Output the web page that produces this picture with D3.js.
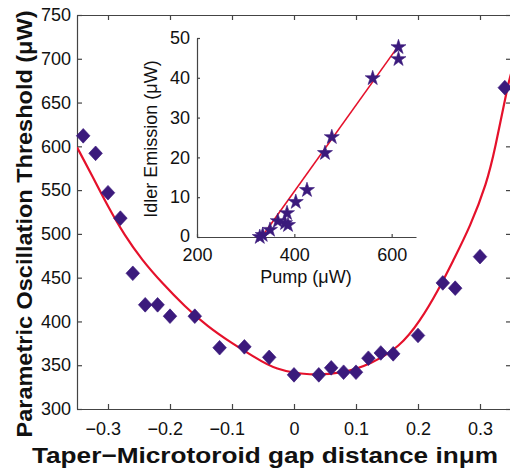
<!DOCTYPE html>
<html>
<head>
<meta charset="utf-8">
<script src="https://cdn.jsdelivr.net/npm/d3@7"></script>
<style>
  html, body { margin: 0; padding: 0; background: #fff; }
  svg { display: block; font-family: 'Liberation Sans', Arial, sans-serif; }
</style>
</head>
<body>
<div id="chart"></div>
<script>
// main plot: measured threshold vs gap
const gapDistance = [-0.34, -0.32, -0.30, -0.28, -0.26, -0.24, -0.22, -0.20, -0.16, -0.12, -0.08, -0.04,
    0, 0.04, 0.06, 0.08, 0.10, 0.12, 0.14, 0.16, 0.20, 0.24, 0.26, 0.30, 0.34];
const threshold = [612, 592, 547, 518, 455, 419, 419, 406, 406, 370, 371, 359,
    339, 339, 347, 342, 342, 358, 364, 363, 384, 444, 438, 474, 667];

// red fit curve
const fitGap = [-0.35, -0.326, -0.30, -0.273, -0.245, -0.213, -0.176, -0.139, -0.10, -0.063, -0.031,
    0.026, 0.079, 0.123, 0.171, 0.203, 0.233, 0.257, 0.284, 0.311, 0.324, 0.344, 0.35];
const fitThreshold = [599, 567, 531, 498, 470, 444, 417, 394, 375, 359, 345,
    338, 341, 351, 371, 400, 436, 470, 508, 558, 596, 667, 683];

const xTicks = [-0.3, -0.2, -0.1, 0, 0.1, 0.2, 0.3];
const yTicks = [300, 350, 400, 450, 500, 550, 600, 650, 700, 750];

// inset: idler emission vs pump
const pump = [614, 614, 561, 477, 463, 426, 403, 385, 366, 381, 387, 350, 335, 329];
const idler = [47.7, 44.7, 39.9, 25.1, 21.1, 11.8, 8.8, 6.0, 4.0, 3.5, 3.0, 1.8, 0.5, 0];
const insetFitPump = [333, 612];
const insetFitIdler = [0, 47.7];
const insetXTicks = [200, 400, 600];
const insetYTicks = [0, 10, 20, 30, 40, 50];

const W = 510, H = 468;
const axisColor = '#444';
const textColor = '#111';
const markColor = '#3b1a7c';
const fitColor = '#e5112b';
const minus = v => (v < 0 ? '\u2212' : '') + Math.abs(v);

const svg = d3.select('#chart').append('svg')
    .attr('width', W)
    .attr('height', H);

svg.append('rect').attr('width', W).attr('height', H).attr('fill', '#fff');

// main plot area
const plot = { left: 77, right: 511, top: 15, bottom: 409 };

const x = d3.scaleLinear().domain([-0.35, 0.35]).range([plot.left, plot.right]);
const y = d3.scaleLinear().domain([300, 750]).range([plot.bottom, plot.top]);

svg.append('clipPath').attr('id', 'clip')
    .append('rect')
    .attr('x', plot.left).attr('y', plot.top)
    .attr('width', plot.right - plot.left).attr('height', plot.bottom - plot.top);

function styleAxis(g, fontSize) {
    g.select('.domain').attr('stroke', axisColor).attr('stroke-width', 1.2);
    g.selectAll('.tick line').attr('stroke', axisColor).attr('stroke-width', 1.2);
    g.selectAll('.tick text').attr('fill', textColor).style('font-size', fontSize + 'px');
    g.attr('font-family', null);
}

const bottomAxis = svg.append('g')
    .attr('transform', `translate(0,${plot.bottom})`)
    .call(d3.axisBottom(x).tickValues(xTicks).tickFormat(minus)
        .tickSizeInner(-5).tickSizeOuter(0).tickPadding(13));
styleAxis(bottomAxis, 18);
bottomAxis.selectAll('.tick text').attr('dx', d => d < 0 ? '-0.29em' : 0);

const topAxis = svg.append('g')
    .attr('transform', `translate(0,${plot.top})`)
    .call(d3.axisTop(x).tickValues(xTicks).tickFormat('')
        .tickSizeInner(-5).tickSizeOuter(0));
styleAxis(topAxis, 18);

const leftAxis = svg.append('g')
    .attr('transform', `translate(${plot.left},0)`)
    .call(d3.axisLeft(y).tickValues(yTicks)
        .tickSizeInner(-5).tickSizeOuter(0).tickPadding(6));
styleAxis(leftAxis, 18);

const rightAxis = svg.append('g')
    .attr('transform', `translate(${plot.right},0)`)
    .call(d3.axisRight(y).tickValues(yTicks).tickFormat('')
        .tickSizeInner(-5).tickSizeOuter(0));
styleAxis(rightAxis, 18);

const plotArea = svg.append('g').attr('clip-path', 'url(#clip)');

const fitLine = d3.line()
    .x((d, i) => x(fitGap[i]))
    .y((d, i) => y(fitThreshold[i]))
    .curve(d3.curveBasis);

plotArea.append('path')
    .datum(fitGap)
    .attr('d', fitLine)
    .attr('fill', 'none')
    .attr('stroke', fitColor)
    .attr('stroke-width', 2.2);

const diamond = d3.symbol().type(d3.symbolSquare).size(92);

svg.append('g')
    .selectAll('path')
    .data(gapDistance)
    .join('path')
    .attr('d', diamond)
    .attr('transform', (d, i) => `translate(${x(d)},${y(threshold[i])}) scale(1,1.08) rotate(45)`)
    .attr('fill', markColor)
    .attr('stroke', markColor)
    .attr('stroke-width', 0.6);

// axis titles
svg.append('text')
    .attr('x', 265)
    .attr('y', 463)
    .attr('text-anchor', 'middle')
    .attr('textLength', 466)
    .attr('lengthAdjust', 'spacingAndGlyphs')
    .style('font-size', '22px')
    .style('font-weight', 'bold')
    .attr('fill', textColor)
    .text('Taper\u2212Microtoroid gap distance in\u03bcm');

svg.append('text')
    .attr('transform', 'translate(32,224) rotate(-90)')
    .attr('text-anchor', 'middle')
    .attr('textLength', 427)
    .attr('lengthAdjust', 'spacingAndGlyphs')
    .style('font-size', '22px')
    .style('font-weight', 'bold')
    .attr('fill', textColor)
    .text('Parametric Oscillation Threshold (\u03bcW)');

// inset
const inset = { left: 197, right: 416, top: 38, bottom: 237 };

const ix = d3.scaleLinear().domain([200, 650]).range([inset.left, inset.right]);
const iy = d3.scaleLinear().domain([0, 50]).range([inset.bottom, inset.top]);

svg.append('rect')
    .attr('x', inset.left).attr('y', inset.top)
    .attr('width', inset.right - inset.left).attr('height', inset.bottom - inset.top)
    .attr('fill', '#fff');

const insetBottom = svg.append('g')
    .attr('transform', `translate(0,${inset.bottom})`)
    .call(d3.axisBottom(ix).tickValues(insetXTicks)
        .tickSizeInner(-3).tickSizeOuter(0).tickPadding(11));
styleAxis(insetBottom, 18);

const insetLeft = svg.append('g')
    .attr('transform', `translate(${inset.left},0)`)
    .call(d3.axisLeft(iy).tickValues(insetYTicks)
        .tickSizeInner(-3).tickSizeOuter(0).tickPadding(7));
styleAxis(insetLeft, 18);
insetLeft.selectAll('.tick text').attr('y', d => d === 0 ? -1.5 : 0);

svg.append('path')
    .datum(insetFitPump)
    .attr('d', d3.line().x((d, i) => ix(d)).y((d, i) => iy(insetFitIdler[i])))
    .attr('fill', 'none')
    .attr('stroke', fitColor)
    .attr('stroke-width', 1.6);

const star = d3.symbol().type(d3.symbolStar).size(70);

svg.append('g')
    .selectAll('path')
    .data(pump)
    .join('path')
    .attr('d', star)
    .attr('transform', (d, i) => `translate(${ix(d)},${iy(idler[i])})`)
    .attr('fill', markColor)
    .attr('stroke', markColor)
    .attr('stroke-width', 0.6);

svg.append('text')
    .attr('x', 306)
    .attr('y', 283)
    .attr('text-anchor', 'middle')
    .style('font-size', '18px')
    .attr('fill', textColor)
    .text('Pump (\u03bcW)');

svg.append('text')
    .attr('transform', 'translate(157,139) rotate(-90)')
    .attr('text-anchor', 'middle')
    .style('font-size', '18px')
    .attr('fill', textColor)
    .text('Idler Emission (\u03bcW)');
</script>
</body>
</html>
